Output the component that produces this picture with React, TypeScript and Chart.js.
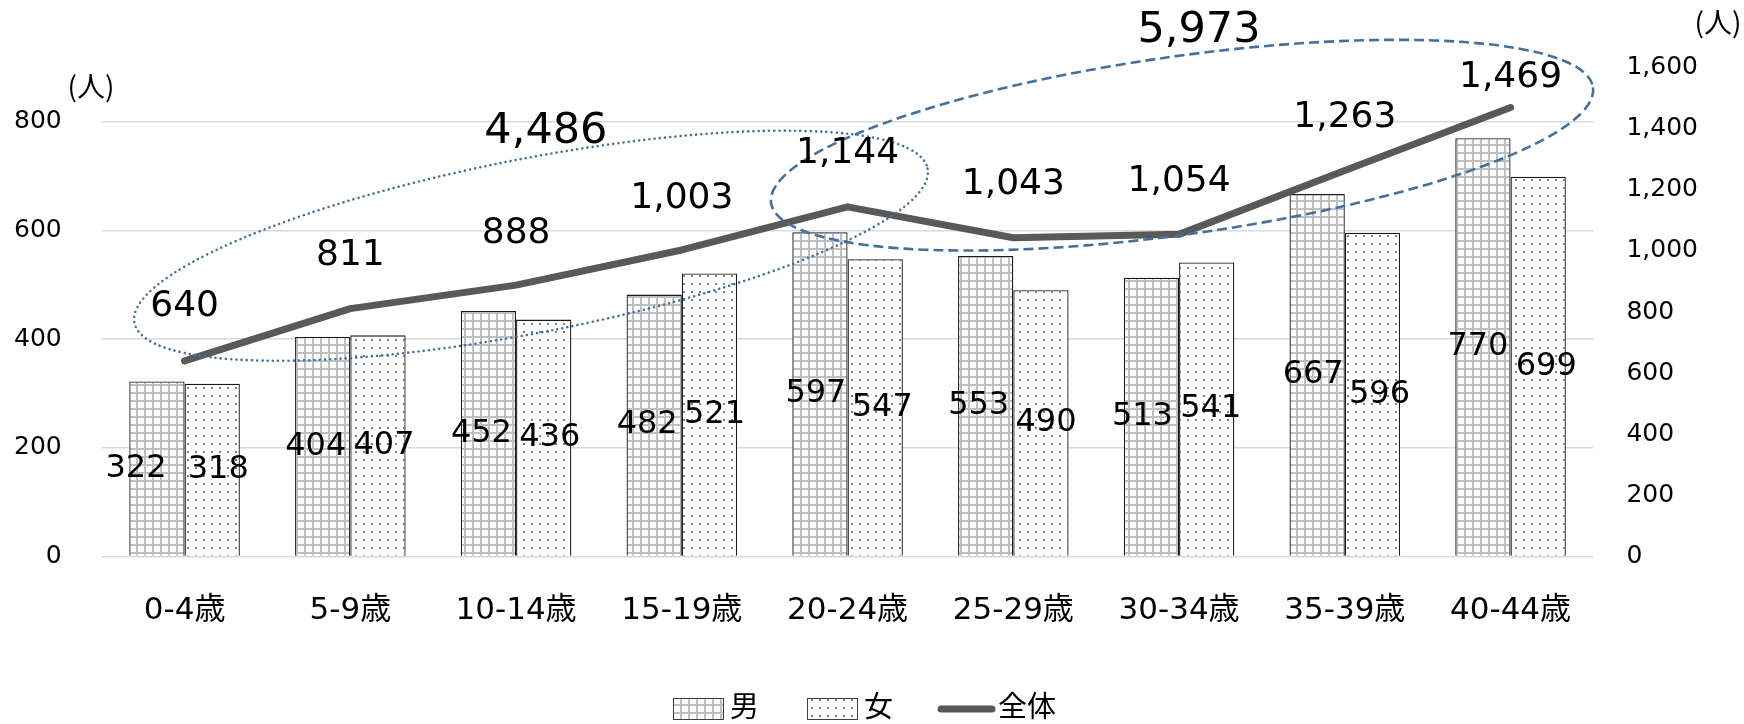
import React, { useEffect, useRef } from 'react';
import { Chart, registerables } from 'chart.js';

Chart.register(...registerables);

// ---- data ----
const categories = ['0-4歳', '5-9歳', '10-14歳', '15-19歳', '20-24歳', '25-29歳', '30-34歳', '35-39歳', '40-44歳'];
const maleValues = [322, 404, 452, 482, 597, 553, 513, 667, 770];
const femaleValues = [318, 407, 436, 521, 547, 490, 541, 596, 699];
const totalValues = [640, 811, 888, 1003, 1144, 1043, 1054, 1263, 1469];
const seriesNames = ['男', '女', '全体'];
const groupTotals = [4486, 5973];
const unitLabel = '(人)';
const leftMax = 900;
const leftTickMaxShown = 800;
const rightMax = 1600;
const tickStep = 200;

// ---- label placement (style, not data) ----
const maleLabelDx = [-21, -7, -7, -7, -4, -7, -9, -4, -5];
const femaleLabelDx = [6, 6, 6, 5, 7, 5, 4, 7, 8];
const lineLabelDy = [-54, -53, -51, -51, -53, -53, -53, -53, -30];
const totalLabelPos = [
  { idx: 2.18, value: 781 },
  { idx: 6.12, value: 968 },
];
const ellipses = [
  { idx: 2.09, value: 572, rx: 404, ry: 87, rot: -11, style: 'dotted' },
  { idx: 6.018, value: 757, rx: 415, ry: 89, rot: -8, style: 'dashed' },
];

const FONT = '"DejaVu Sans", "Noto Sans CJK JP", sans-serif';
const CJK = '"Noto Sans CJK JP", "DejaVu Sans", sans-serif';
const fmt = (v: number) => v.toLocaleString('en-US');

export default function App() {
  const ref = useRef<HTMLCanvasElement>(null);

  useEffect(() => {
    document.body.style.margin = '0';
    const canvas = ref.current!;
    const mainCtx = canvas.getContext('2d')!;
    const mk = (draw: (g: CanvasRenderingContext2D) => void) => {
      const c = document.createElement('canvas');
      c.width = 8;
      c.height = 8;
      const g = c.getContext('2d')!;
      draw(g);
      return mainCtx.createPattern(c, 'repeat')!;
    };
    const gridPat = mk((g) => {
      g.fillStyle = '#ffffff';
      g.fillRect(0, 0, 8, 8);
      g.fillStyle = '#bfbfbf';
      g.fillRect(0, 0, 8, 2);
      g.fillRect(0, 0, 2, 8);
    });
    const dotPat = mk((g) => {
      g.fillStyle = '#ffffff';
      g.fillRect(0, 0, 8, 8);
      g.fillStyle = '#7f7f7f';
      g.fillRect(3, 3, 2, 2);
    });

    const overlay = {
      id: 'overlay',
      afterDatasetsDraw(chart: any) {
        const ctx: CanvasRenderingContext2D = chart.ctx;
        const xs = chart.scales.x;
        const ys = chart.scales.y;
        const x0 = xs.getPixelForValue(0);
        const catW = xs.getPixelForValue(1) - x0;
        const px = (idx: number) => x0 + idx * catW;

        // ellipses
        ctx.save();
        ctx.strokeStyle = '#41719C';
        ellipses.forEach((e) => {
          ctx.beginPath();
          ctx.ellipse(px(e.idx), ys.getPixelForValue(e.value), e.rx, e.ry, (e.rot * Math.PI) / 180, 0, Math.PI * 2);
          if (e.style === 'dotted') {
            ctx.lineWidth = 2.6;
            ctx.lineCap = 'round';
            ctx.setLineDash([0.01, 5.2]);
          } else {
            ctx.lineWidth = 2.6;
            ctx.lineCap = 'butt';
            ctx.setLineDash([10, 5]);
          }
          ctx.stroke();
        });
        ctx.restore();

        // data labels
        ctx.save();
        ctx.fillStyle = '#000000';
        ctx.textAlign = 'center';
        ctx.textBaseline = 'middle';
        ctx.font = `32px ${FONT}`;
        const barSets = [
          { meta: chart.getDatasetMeta(0), vals: maleValues, dx: maleLabelDx },
          { meta: chart.getDatasetMeta(1), vals: femaleValues, dx: femaleLabelDx },
        ];
        barSets.forEach((s) => {
          s.meta.data.forEach((el: any, i: number) => {
            const p = el.getProps(['x', 'y', 'base'], true);
            ctx.fillText(fmt(s.vals[i]), p.x + s.dx[i], (p.y + p.base) / 2);
          });
        });
        ctx.font = `36px ${FONT}`;
        chart.getDatasetMeta(2).data.forEach((el: any, i: number) => {
          const p = el.getProps(['x', 'y'], true);
          ctx.fillText(fmt(totalValues[i]), p.x, p.y + lineLabelDy[i]);
        });
        ctx.font = `43px ${FONT}`;
        totalLabelPos.forEach((t, i) => {
          ctx.fillText(fmt(groupTotals[i]), px(t.idx), ys.getPixelForValue(t.value));
        });

        // unit labels
        ctx.font = `28px ${CJK}`;
        ctx.fillText(unitLabel, 91, 86);
        ctx.fillText(unitLabel, 1718, 22);
        ctx.restore();
      },
      afterDraw(chart: any) {
        const ctx: CanvasRenderingContext2D = chart.ctx;
        ctx.save();
        const boxY = 698;
        const boxH = 22;
        const boxW = 51;
        const items = [
          { x: 673, fill: gridPat, text: seriesNames[0] },
          { x: 807, fill: dotPat, text: seriesNames[1] },
        ];
        ctx.font = `29px ${CJK}`;
        ctx.textBaseline = 'middle';
        ctx.textAlign = 'left';
        items.forEach((it) => {
          ctx.fillStyle = it.fill;
          ctx.fillRect(it.x, boxY, boxW, boxH);
          ctx.strokeStyle = '#404040';
          ctx.lineWidth = 1;
          ctx.strokeRect(it.x + 0.5, boxY + 0.5, boxW - 1, boxH - 1);
          ctx.fillStyle = '#000000';
          ctx.fillText(it.text, it.x + boxW + 6, 706);
        });
        ctx.strokeStyle = '#595959';
        ctx.lineWidth = 7;
        ctx.lineCap = 'round';
        ctx.beginPath();
        ctx.moveTo(941, 709);
        ctx.lineTo(992, 709);
        ctx.stroke();
        ctx.fillStyle = '#000000';
        ctx.fillText(seriesNames[2], 998, 706);
        ctx.restore();
      },
    };

    const chart = new Chart(canvas, {
      type: 'bar',
      data: {
        labels: categories,
        datasets: [
          {
            type: 'bar',
            label: seriesNames[0],
            data: maleValues,
            backgroundColor: gridPat as any,
            borderColor: '#1a1a1a',
            borderWidth: 1.3,
            yAxisID: 'y',
            categoryPercentage: 0.667,
            barPercentage: 1,
            order: 1,
          },
          {
            type: 'bar',
            label: seriesNames[1],
            data: femaleValues,
            backgroundColor: dotPat as any,
            borderColor: '#1a1a1a',
            borderWidth: 1.3,
            yAxisID: 'y',
            categoryPercentage: 0.667,
            barPercentage: 1,
            order: 1,
          },
          {
            type: 'line',
            label: seriesNames[2],
            data: totalValues,
            borderColor: '#595959',
            borderWidth: 7,
            borderCapStyle: 'round',
            borderJoinStyle: 'round',
            pointRadius: 0,
            tension: 0,
            yAxisID: 'y1',
            order: 0,
          } as any,
        ],
      },
      options: {
        responsive: false,
        animation: false,
        devicePixelRatio: 1,
        layout: { padding: { left: -26, right: 13, top: 67.5, bottom: 58.3 } },
        plugins: {
          legend: { display: false },
          tooltip: { enabled: false },
        },
        scales: {
          x: {
            grid: { display: false, drawTicks: false },
            border: { display: false },
            ticks: {
              font: { family: FONT, size: 31 },
              color: '#000000',
              padding: 36,
              maxRotation: 0,
              autoSkip: false,
            },
          },
          y: {
            position: 'left',
            min: 0,
            max: leftMax,
            afterBuildTicks: (s: any) => {
              s.ticks = s.ticks.filter((t: any) => t.value <= leftTickMaxShown);
            },
            ticks: {
              stepSize: tickStep,
              font: { family: FONT, size: 25 },
              color: '#000000',
              padding: 40,
            },
            grid: { color: '#d9d9d9', lineWidth: 1.5, drawTicks: false },
            border: { display: false },
          },
          y1: {
            position: 'right',
            min: 0,
            max: rightMax,
            ticks: {
              stepSize: tickStep,
              font: { family: FONT, size: 25 },
              color: '#000000',
              padding: 33,
              callback: (v: any) => fmt(Number(v)),
            },
            grid: { drawOnChartArea: false, drawTicks: false },
            border: { display: false },
          },
        },
      },
      plugins: [overlay],
    });

    return () => chart.destroy();
  }, []);

  return <canvas ref={ref} width={1744} height={724} style={{ display: 'block' }} />;
}
